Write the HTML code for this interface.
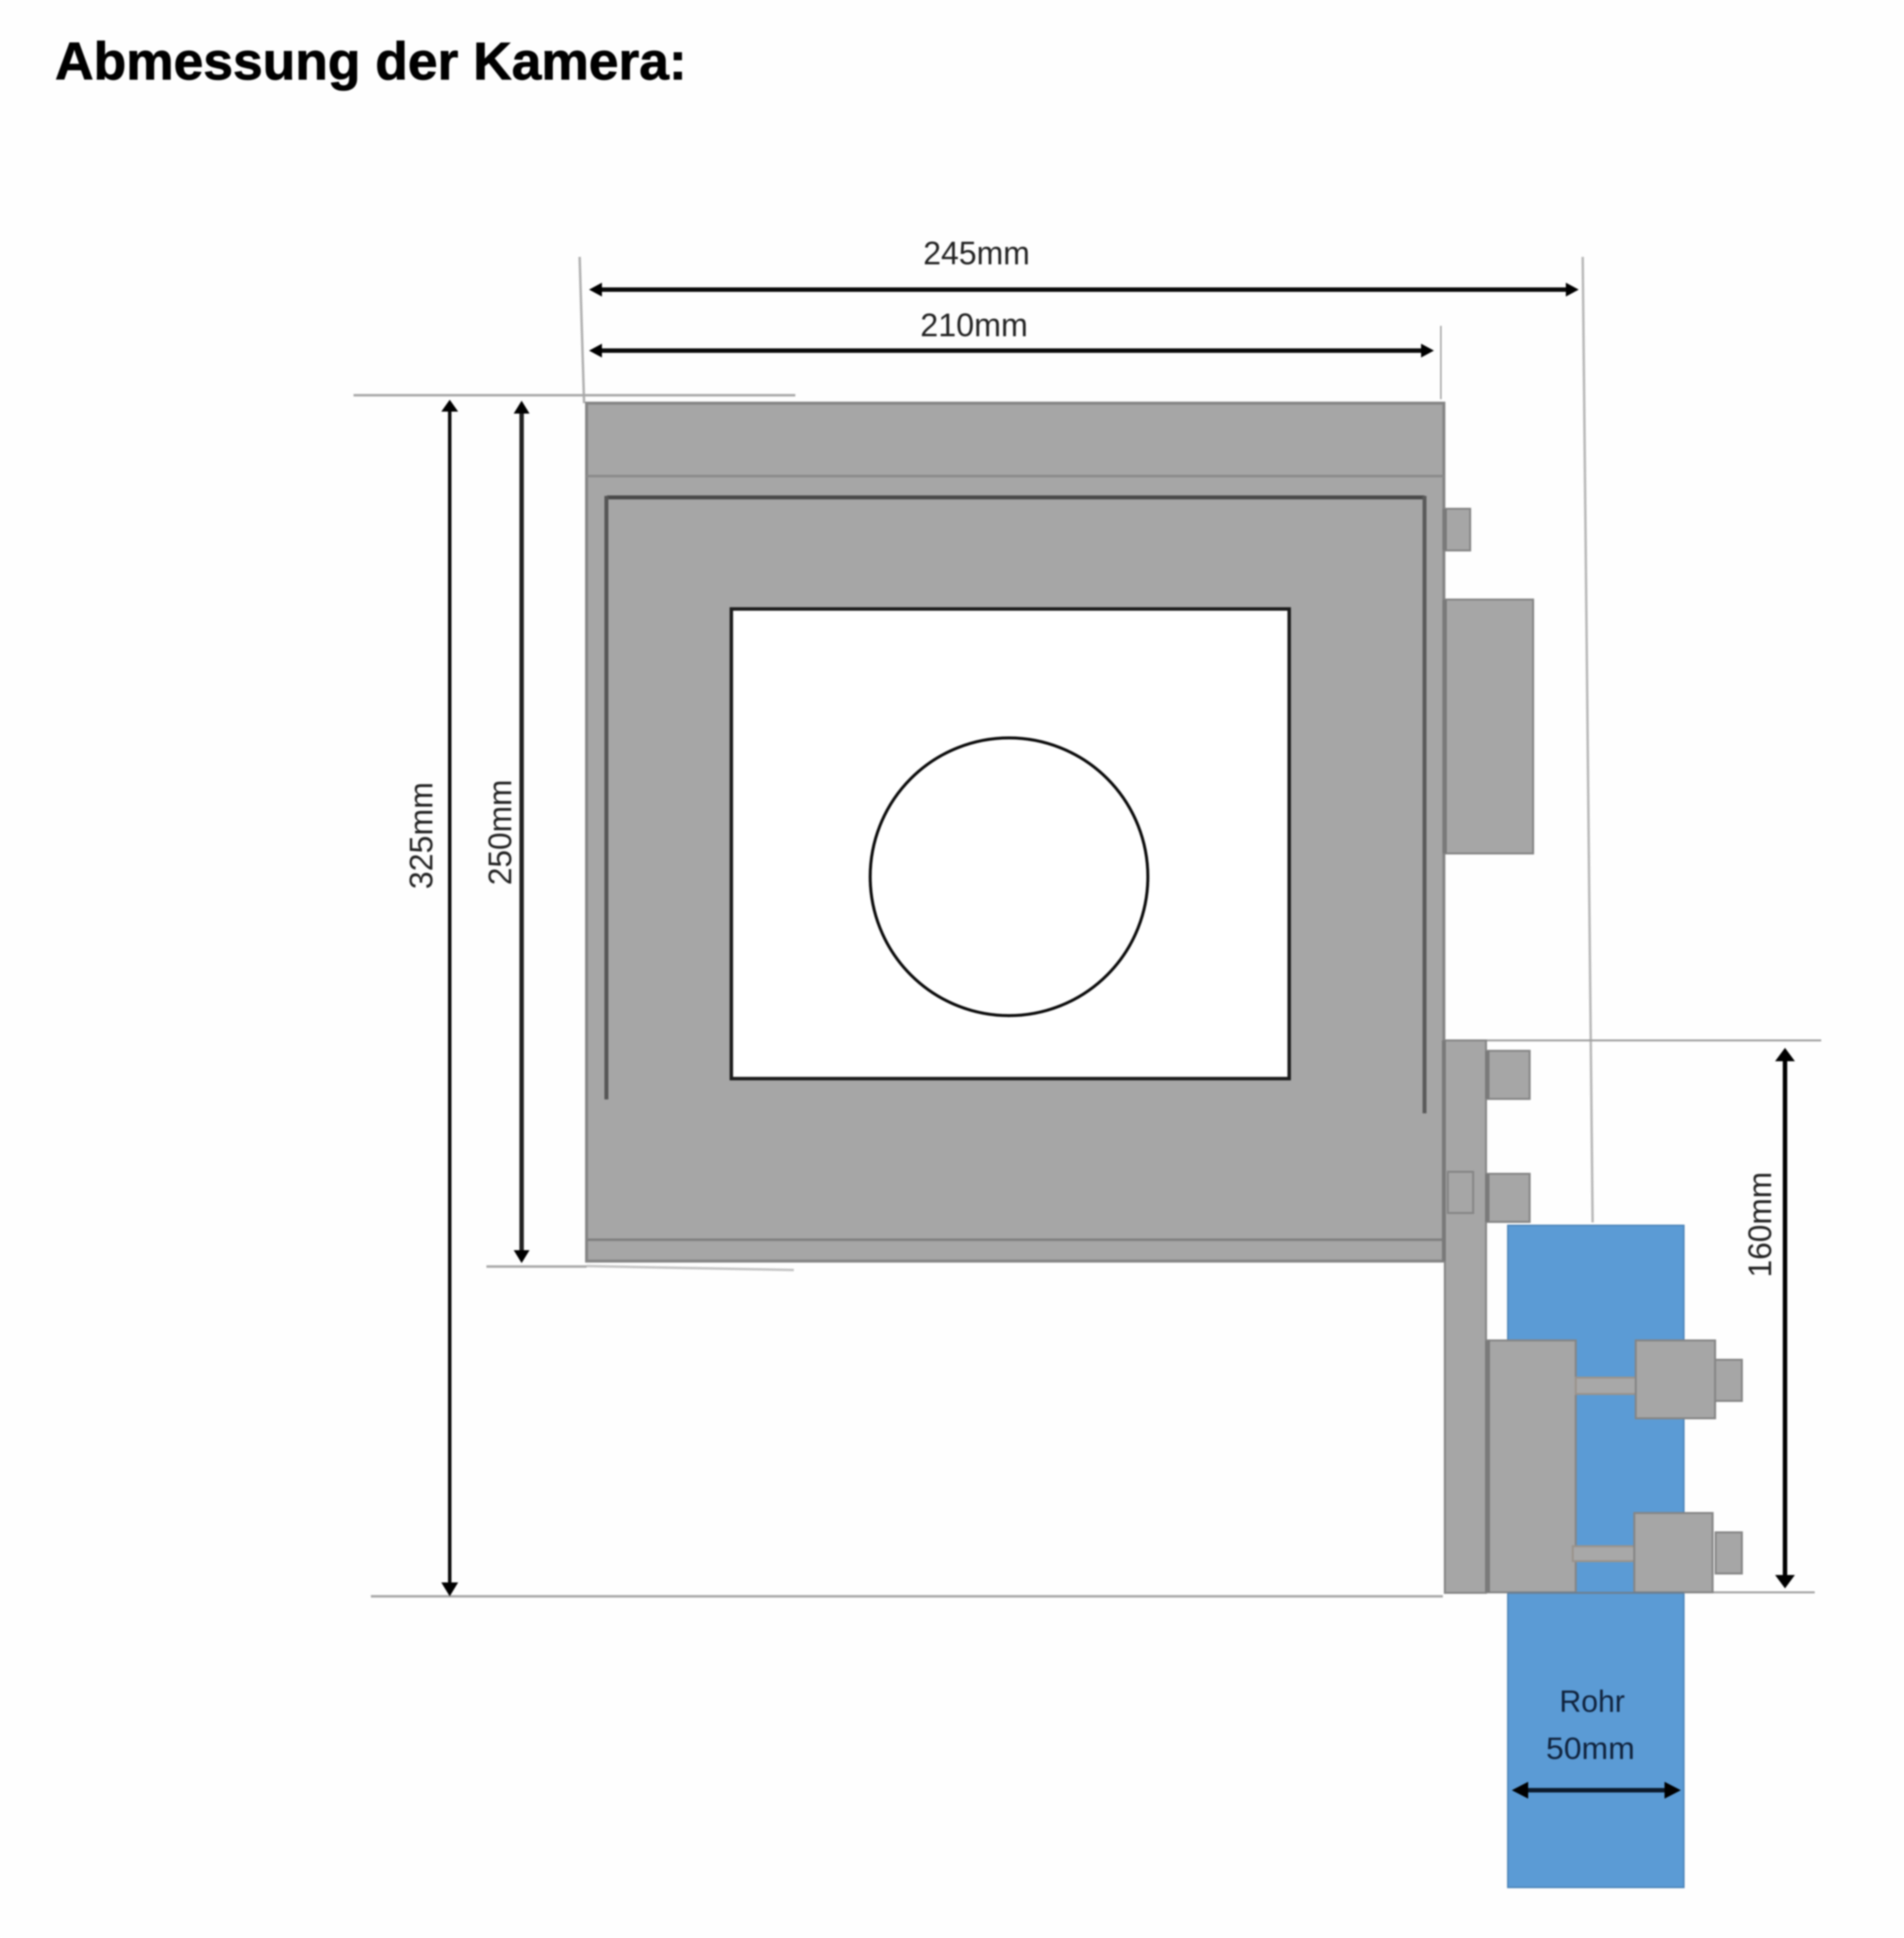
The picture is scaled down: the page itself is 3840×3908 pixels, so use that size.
<!DOCTYPE html>
<html lang="de">
<head>
<meta charset="utf-8">
<title>Abmessung der Kamera</title>
<style>
html,body{margin:0;padding:0;background:#fefefe;width:3840px;height:3908px;overflow:hidden}
svg{display:block;filter:blur(1.6px)}
text{font-family:"Liberation Sans",sans-serif}
</style>
</head>
<body>
<svg xmlns="http://www.w3.org/2000/svg" width="3840" height="3908" viewBox="0 0 3840 3908">
<rect width="3840" height="3908" fill="#fefefe"/>

<text x="111" y="160" font-size="107" font-weight="700" fill="#000" stroke="#000" stroke-width="1.5" textLength="1274" lengthAdjust="spacingAndGlyphs">Abmessung der Kamera:</text>

<!-- extension lines -->
<g fill="none" stroke="#a8a8a8" stroke-width="5">
<line x1="1169" y1="518" x2="1178" y2="813" stroke="#b0b0b0"/>
<line x1="713" y1="797" x2="1604" y2="797"/>
<line x1="2906" y1="657" x2="2906" y2="805" stroke="#a0a0a0" stroke-width="3"/>
<line x1="3192" y1="518" x2="3212" y2="2465" stroke="#b8b8b8"/>
<line x1="981" y1="2554" x2="1183" y2="2554"/>
<line x1="1183" y1="2553" x2="1601" y2="2561" stroke="#c4c4c4"/>
<line x1="748" y1="3219" x2="2910" y2="3219"/>
<line x1="2997" y1="2098" x2="3673" y2="2098" stroke="#a0a0a0" stroke-width="4"/>
<line x1="3178" y1="3211" x2="3660" y2="3211" stroke="#a0a0a0" stroke-width="4"/>
</g>

<!-- pipe -->
<rect x="3041" y="2471" width="355" height="1335" fill="#5b9bd5" stroke="#4a83b8" stroke-width="3"/>

<!-- housing -->
<rect x="1183" y="813" width="1729" height="1730" fill="#a6a6a6" stroke="#858585" stroke-width="6"/>
<line x1="1183" y1="960" x2="2912" y2="960" stroke="#8a8a8a" stroke-width="5"/>
<line x1="1183" y1="2500" x2="2912" y2="2500" stroke="#7f7f7f" stroke-width="5"/>
<line x1="1224" y1="1003" x2="2873" y2="1003" stroke="#4a4a4a" stroke-width="8"/>
<line x1="1223" y1="1000" x2="1223" y2="2217" stroke="#555" stroke-width="8"/>
<line x1="2873" y1="1000" x2="2873" y2="2245" stroke="#5a5a5a" stroke-width="8"/>

<!-- window and lens -->
<rect x="1475" y="1228" width="1125" height="947" fill="#fff" stroke="#1c1c1c" stroke-width="7"/>
<circle cx="2035" cy="1768" r="280" fill="#fff" stroke="#0a0a0a" stroke-width="6"/>

<!-- right side parts -->
<g fill="#a6a6a6" stroke="#858585" stroke-width="4">
<rect x="2912" y="1026" width="53" height="84"/>
<rect x="2912" y="1209" width="180" height="512"/>
<rect x="2914" y="2098" width="83" height="1114"/>
<rect x="2997" y="2119" width="88" height="97"/>
<rect x="2997" y="2367" width="88" height="97"/>
<rect x="2920" y="2363" width="51" height="83"/>
<rect x="2998" y="2703" width="180" height="508"/>
<rect x="3178" y="2778" width="121" height="33" fill="#a8a8a8" stroke="#9a938c"/>
<rect x="3172" y="3118" width="124" height="30" fill="#a8a8a8" stroke="#9a938c"/>
<rect x="3299" y="2703" width="160" height="157"/>
<rect x="3296" y="3051" width="158" height="160"/>
<rect x="3459" y="2742" width="54" height="83"/>
<rect x="3460" y="3090" width="53" height="83"/>
</g>
<g fill="#7a7a7a">
<rect x="2909" y="1026" width="9" height="84"/>
<rect x="2909" y="1209" width="9" height="512"/>
<rect x="2908" y="2098" width="8" height="445"/>
<rect x="2995" y="2119" width="9" height="97"/>
<rect x="2995" y="2367" width="9" height="97"/>
<rect x="2995" y="2703" width="10" height="508"/>
</g>
<line x1="3041" y1="3212" x2="3396" y2="3212" stroke="#6b7f92" stroke-width="4"/>

<!-- dimension arrows -->
<g stroke="#0a0a0a" fill="none">
<line x1="1205" y1="584" x2="3165" y2="584" stroke-width="9"/>
<line x1="1205" y1="707" x2="2875" y2="707" stroke-width="9"/>
<line x1="907" y1="820" x2="907" y2="3205" stroke-width="7"/>
<line x1="1052" y1="825" x2="1052" y2="2535" stroke-width="9" stroke="#222"/>
<line x1="3600" y1="2125" x2="3600" y2="3190" stroke-width="9" stroke="#000"/>
<line x1="3065" y1="3610" x2="3375" y2="3610" stroke-width="9" stroke="#0b1a2c"/>
</g>
<g fill="#000">
<polygon points="1188,584 1214,570 1214,598"/>
<polygon points="3184,584 3158,570 3158,598"/>
<polygon points="1188,707 1214,693 1214,721"/>
<polygon points="2892,707 2866,693 2866,721"/>
<polygon points="907,806 890,830 924,830"/>
<polygon points="907,3219 890,3191 924,3191"/>
<polygon points="1052,808 1036,834 1068,834"/>
<polygon points="1052,2547 1036,2521 1068,2521"/>
<polygon points="3600,2113 3580,2140 3620,2140"/>
<polygon points="3600,3203 3580,3176 3620,3176"/>
<polygon points="3049,3610 3082,3593 3082,3627"/>
<polygon points="3390,3610 3357,3593 3357,3627"/>
</g>

<!-- labels -->
<g fill="#222" font-size="66">
<text x="1862" y="533" textLength="215" lengthAdjust="spacingAndGlyphs">245mm</text>
<text x="1856" y="678" textLength="217" lengthAdjust="spacingAndGlyphs">210mm</text>
<text transform="translate(872,1793) rotate(-90)" textLength="216" lengthAdjust="spacingAndGlyphs">325mm</text>
<text transform="translate(1031,1785) rotate(-90)" textLength="213" lengthAdjust="spacingAndGlyphs">250mm</text>
<text transform="translate(3572,2576) rotate(-90)" textLength="213" lengthAdjust="spacingAndGlyphs">160mm</text>
</g>
<g fill="#10233d" font-size="62">
<text x="3145" y="3452" textLength="132" lengthAdjust="spacingAndGlyphs">Rohr</text>
<text x="3118" y="3547" textLength="179" lengthAdjust="spacingAndGlyphs">50mm</text>
</g>
</svg>
</body>
</html>
